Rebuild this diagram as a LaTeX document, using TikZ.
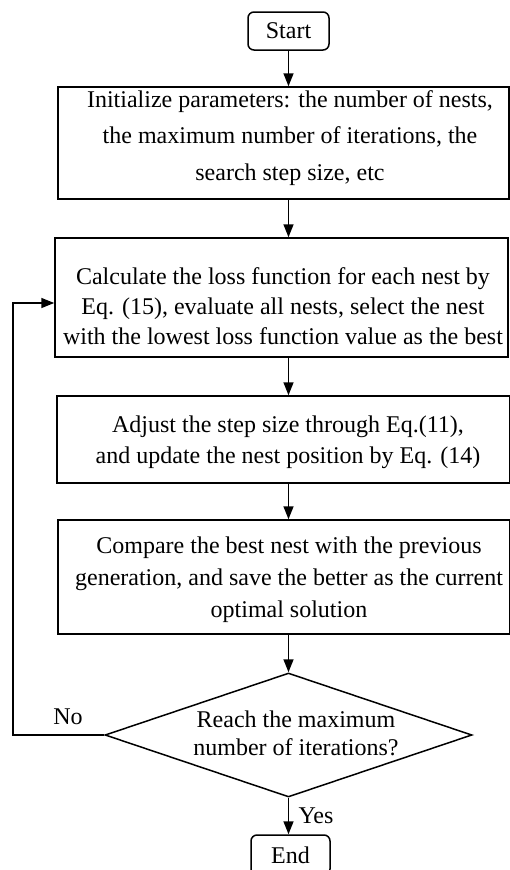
\documentclass[tikz,border=0pt]{standalone}
\usepackage{fontspec}
\setmainfont{Liberation Serif}
\usetikzlibrary{shapes.geometric,arrows.meta}
\begin{document}
\begin{tikzpicture}[x=1pt,y=-1pt,
  txt/.style={font=\fontsize{24}{31}\selectfont,align=center,inner sep=0pt},
  procbox/.style={draw,line width=1.5pt,rectangle,inner sep=0pt},
  termbox/.style={draw,line width=1.5pt,rectangle,rounded corners=6pt,inner sep=0pt,font=\fontsize{24}{31}\selectfont},
  flow/.style={line width=1.5pt,-{Triangle[length=13pt,width=10pt]}}
]
\useasboundingbox (0,0) rectangle (510,870);
\node[termbox,minimum width=81pt,minimum height=38pt] (start) at (288.5,31) {Start};
\node[procbox,minimum width=451pt,minimum height=112pt] (b1) at (283.5,143) {};
\node[txt,font=\fontsize{24}{36.5}\selectfont] (t1) at (290,138)
  {Initialize parameters: the number of nests,\\the maximum number of iterations, the\\search step size, etc};
\node[procbox,minimum width=453pt,minimum height=119pt] (b2) at (281.5,297.5) {};
\node[txt,font=\fontsize{24}{30}\selectfont] (t2) at (283,306)
  {Calculate the loss function for each nest by\\Eq. (15), evaluate all nests, select the nest\\with the lowest loss function value as the best};
\node[procbox,minimum width=453pt,minimum height=87pt] (b3) at (283.5,439.5) {};
\node[txt] (t3) at (288,442)
  {Adjust the step size through Eq.(11),\\and update the nest position by Eq. (14)};
\node[procbox,minimum width=452pt,minimum height=114pt] (b4) at (284,577) {};
\node[txt,font=\fontsize{24}{32}\selectfont] (t4) at (289,580)
  {Compare the best nest with the previous\\generation, and save the better as the current\\optimal solution};
\node[diamond,draw,line width=1.5pt,inner sep=0pt,minimum width=367pt,minimum height=124pt] (dec) at (288.5,735) {};
\node[txt,font=\fontsize{24}{28}\selectfont] (dectext) at (296,733) {Reach the maximum\\number of iterations?};
\node[termbox,minimum width=79pt,minimum height=40pt] (end) at (290.5,855) {End};
\coordinate (fb1) at (13,735);
\coordinate (fb2) at (13,303);
\draw[flow] (start) -- (b1.north -| start);
\draw[flow] (b1.south -| start) -- (b2.north -| start);
\draw[flow] (b2.south -| start) -- (b3.north -| start);
\draw[flow] (b3.south -| start) -- (b4.north -| start);
\draw[flow] (b4.south -| start) -- (dec.north);
\draw[flow] (dec.south) -- (end.north -| dec.south);
\draw[flow] (dec.west) -- (fb1) -- (fb2) -- (b2.west |- fb2);
\node[txt] (no) at (68,717) {No};
\node[txt] (yes) at (316,816) {Yes};
\end{tikzpicture}
\end{document}
